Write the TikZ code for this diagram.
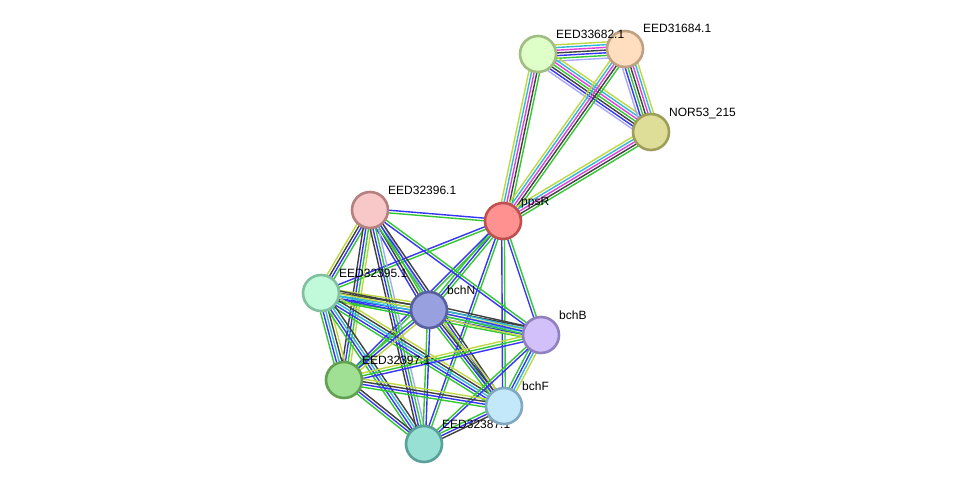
\documentclass[tikz,border=0pt]{standalone}
\usepackage{fontspec}
\setmainfont{Liberation Sans}
\usetikzlibrary{calc}
\pgfdeclarelayer{paper}
\pgfdeclarelayer{background}
\pgfsetlayers{paper,background,main}
\definecolor{sg}{HTML}{33C733}
\definecolor{sb}{HTML}{3535F5}
\definecolor{sk}{HTML}{404040}
\definecolor{sm}{HTML}{E040E0}
\definecolor{sc}{HTML}{30B8D8}
\definecolor{sy}{HTML}{C0D840}
\definecolor{sl}{HTML}{A8A8F8}
\tikzset{
  prot/.style={circle, minimum size=36pt, inner sep=0pt, line width=2.6pt},
  lbl/.style={anchor=base west, inner sep=0pt, font=\fontsize{12}{14}\selectfont},
  eline/.style={line width=1.4pt},
}
\newcommand\sedge[4]{%
  \foreach \c [count=\i] in {#4} {%
    \pgfmathsetmacro\off{(\i-(#3+1)/2)*2.7}%
    \draw[\c, eline] ($(#1)!\off pt!90:(#2)$) -- ($(#2)!\off pt!-90:(#1)$);
  }%
}
\begin{document}
\begin{tikzpicture}[x=1pt,y=-1pt]
\begin{pgfonlayer}{paper}
\fill[white] (0,0) rectangle (976,490);
\end{pgfonlayer}
\useasboundingbox (0,0) rectangle (976,490);
% nodes
\node[prot, draw={rgb,255:red,190;green,160;blue,130}, fill={rgb,255:red,255;green,222;blue,192}] (a2) at (625,49) {};
\node[lbl] (la2) at (643,32) {EED31684.1};
\node[prot, draw={rgb,255:red,160;green,190;blue,130}, fill={rgb,255:red,222;green,255;blue,200}] (a1) at (538,54) {};
\node[lbl] (la1) at (556,38) {EED33682.1};
\node[prot, draw={rgb,255:red,158;green,158;blue,88}, fill={rgb,255:red,222;green,222;blue,152}] (a3) at (651,132) {};
\node[lbl] (la3) at (669,116) {NOR53\_215};
\node[prot, draw={rgb,255:red,192;green,80;blue,80}, fill={rgb,255:red,255;green,145;blue,145}] (pp) at (503,221) {};
\node[lbl] (lpp) at (521,205) {ppsR};
\node[prot, draw={rgb,255:red,182;green,128;blue,128}, fill={rgb,255:red,248;green,200;blue,200}] (b6) at (370,210) {};
\node[lbl] (lb6) at (388,194) {EED32396.1};
\node[prot, draw={rgb,255:red,128;green,192;blue,160}, fill={rgb,255:red,192;green,250;blue,218}] (b5) at (321,293) {};
\node[lbl] (lb5) at (339,277) {EED32395.1};
\node[prot, draw={rgb,255:red,88;green,96;blue,160}, fill={rgb,255:red,152;green,160;blue,224}] (bn) at (429,310) {};
\node[lbl] (lbn) at (447,294) {bchN};
\node[prot, draw={rgb,255:red,144;green,128;blue,192}, fill={rgb,255:red,210;green,192;blue,250}] (bb) at (541,335) {};
\node[lbl] (lbb) at (559,319) {bchB};
\node[prot, draw={rgb,255:red,96;green,160;blue,80}, fill={rgb,255:red,160;green,224;blue,148}] (b7) at (344,380) {};
\node[lbl] (lb7) at (362,364) {EED32397.1};
\node[prot, draw={rgb,255:red,88;green,160;blue,152}, fill={rgb,255:red,152;green,224;blue,212}] (b8) at (424,444) {};
\node[lbl] (lb8) at (442,428) {EED32387.1};
\node[prot, draw={rgb,255:red,128;green,168;blue,192}, fill={rgb,255:red,194;green,232;blue,250}] (bf) at (504,406) {};
\node[lbl] (lbf) at (522,390) {bchF};
\begin{pgfonlayer}{background}
% top group
\sedge{a1}{a2}{7}{sl,sg,sb,sk,sm,sc,sy}
\sedge{a1}{a3}{7}{sl,sb,sk,sg,sm,sc,sy}
\sedge{a2}{a3}{7}{sl,sb,sg,sk,sm,sc,sy}
\sedge{pp}{a1}{5}{sg,sk,sm,sc,sy}
\sedge{pp}{a2}{5}{sg,sk,sm,sc,sy}
\sedge{pp}{a3}{5}{sg,sk,sm,sc,sy}
% ppsR to cluster
\sedge{pp}{b6}{2}{sb,sg}
\sedge{pp}{b5}{2}{sb,sg}
\sedge{pp}{bn}{3}{sg,sb,sg}
\sedge{pp}{bb}{2}{sb,sg}
\sedge{pp}{bf}{2}{sb,sg}
\sedge{pp}{b8}{2}{sb,sg}
\sedge{pp}{b7}{2}{sb,sg}
% cluster
\sedge{b6}{b5}{4}{sy,sk,sb,sg}
\sedge{b6}{bn}{4}{sb,sk,sg,sl}
\sedge{b6}{bb}{2}{sb,sg}
\sedge{b6}{b7}{4}{sk,sb,sg,sy}
\sedge{b6}{bf}{3}{sg,sb,sk}
\sedge{b6}{b8}{4}{sk,sb,sg,sl}
\sedge{b5}{bn}{5}{sg,sb,sc,sk,sy}
\sedge{b5}{bb}{5}{sg,sb,sc,sy,sk}
\sedge{b5}{b7}{5}{sg,sb,sc,sk,sy}
\sedge{b5}{bf}{5}{sg,sb,sc,sk,sy}
\sedge{b5}{b8}{4}{sg,sb,sc,sk}
\sedge{bn}{bb}{5}{sy,sg,sb,sc,sk}
\sedge{bn}{b7}{3}{sg,sb,sy}
\sedge{bn}{bf}{4}{sg,sb,sk,sy}
\sedge{bn}{b8}{2}{sg,sb}
\sedge{bb}{b7}{3}{sy,sg,sb}
\sedge{bb}{bf}{4}{sg,sb,sc,sy}
\sedge{bb}{b8}{2}{sg,sb}
\sedge{b7}{bf}{4}{sg,sb,sk,sy}
\sedge{b7}{b8}{3}{sg,sb,sk}
\sedge{bf}{b8}{3}{sg,sb,sk}
\end{pgfonlayer}
\end{tikzpicture}
\end{document}
